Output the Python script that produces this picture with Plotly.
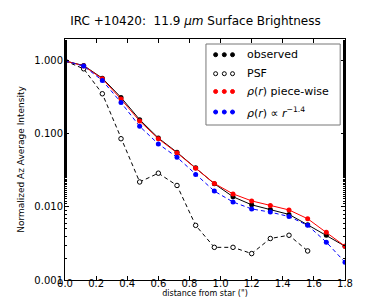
import plotly.graph_objects as go

radius = [0.0, 0.12, 0.24, 0.36, 0.48, 0.60, 0.72, 0.84, 0.96, 1.08, 1.20, 1.32, 1.44, 1.56, 1.68, 1.80]
observed = [1.0, 0.865, 0.58, 0.316, 0.157, 0.088, 0.056, 0.0344, 0.0208, 0.0138, 0.0107, 0.0092, 0.0079, 0.0057, 0.0041, 0.0029]
piecewise = [1.0, 0.855, 0.57, 0.30, 0.150, 0.086, 0.055, 0.0340, 0.0210, 0.0151, 0.0121, 0.0105, 0.0091, 0.0069, 0.0045, 0.0029]
powerlaw = [1.0, 0.85, 0.54, 0.27, 0.127, 0.073, 0.048, 0.0279, 0.0165, 0.0117, 0.0094, 0.0085, 0.0074, 0.0056, 0.0033, 0.00175]
psf_radius = [0.0, 0.12, 0.24, 0.36, 0.48, 0.60, 0.72, 0.84, 0.96, 1.08, 1.20, 1.32, 1.44, 1.56]
psf = [1.0, 0.78, 0.355, 0.086, 0.022, 0.029, 0.0197, 0.0056, 0.0028, 0.0028, 0.0023, 0.0037, 0.0041, 0.0025]

x_ticks = [0.0, 0.2, 0.4, 0.6, 0.8, 1.0, 1.2, 1.4, 1.6, 1.8]
x_ticktext = ["0.0", "0.2", "0.4", "0.6", "0.8", "1.0", "1.2", "1.4", "1.6", "1.8"]
y_ticks = [0.001, 0.01, 0.1, 1.0]
y_ticktext = ["0.001", "0.010", "0.100", "1.000"]

legend_labels = ["observed", "PSF", "<i>ρ</i>(<i>r</i>) piece-wise",
                 "<i>ρ</i>(<i>r</i>) ∝ <i>r</i><sup>−1.4</sup>"]
legend_colors = ["black", "black", "red", "blue"]
legend_fill = ["black", "white", "red", "blue"]

FONT = "DejaVu Sans"
fig = go.Figure()

fig.add_trace(go.Scatter(x=radius, y=observed, mode="lines+markers",
                         line=dict(color="black", width=1),
                         marker=dict(color="black", size=5, symbol="circle")))
fig.add_trace(go.Scatter(x=psf_radius, y=psf, mode="lines+markers",
                         line=dict(color="black", width=1, dash="4px,3px"),
                         marker=dict(color="white", size=4.5, symbol="circle",
                                     line=dict(color="black", width=1))))
fig.add_trace(go.Scatter(x=radius, y=piecewise, mode="lines+markers",
                         line=dict(color="red", width=1),
                         marker=dict(color="red", size=5, symbol="circle")))
fig.add_trace(go.Scatter(x=radius, y=powerlaw, mode="lines+markers",
                         line=dict(color="blue", width=1, dash="4px,3px"),
                         marker=dict(color="blue", size=5, symbol="circle")))
# invisible trace to carry the mirrored right-hand log axis (minor ticks)
fig.add_trace(go.Scatter(x=radius, y=observed, yaxis="y2", mode="lines",
                         opacity=0, hoverinfo="skip", line=dict(width=0)))

# plot area in pixels: x 47..337, y 31..272
W, H = 375, 304
L, R, T, B = 47, 337, 31, 272

def px(xp):
    return (xp - L) / (R - L)

def py(yp):
    return (B - yp) / (B - T)

shapes = [dict(type="rect", xref="paper", yref="paper",
               x0=px(193), x1=px(332), y0=py(117), y1=py(36),
               line=dict(color="#777777", width=1), fillcolor="white", layer="above")]
annotations = []
rows = [46.7, 65.7, 83.5, 104]
for i, lab in enumerate(legend_labels):
    for dx in (203, 212, 220.5):
        shapes.append(dict(type="circle", xref="paper", yref="paper",
                           xsizemode="pixel", ysizemode="pixel",
                           xanchor=px(dx), yanchor=py(rows[i]),
                           x0=-2, x1=2, y0=-2, y1=2,
                           line=dict(color=legend_colors[i], width=1),
                           fillcolor=legend_fill[i], layer="above"))
    annotations.append(dict(xref="paper", yref="paper", x=px(233), y=py(rows[i]),
                            text=lab, showarrow=False, xanchor="left", yanchor="middle",
                            font=dict(family=FONT, size=11, color="black")))

minor_ticks = dict(ticks="inside", ticklen=2, tickcolor="black", showgrid=False)

fig.update_layout(
    width=W, height=H,
    margin=dict(l=L, r=W - R, t=T, b=H - B),
    paper_bgcolor="white", plot_bgcolor="white",
    showlegend=False,
    font=dict(family=FONT, color="black"),
    title=dict(text="IRC +10420:  11.9 <i>μm</i> Surface Brightness",
               x=0.5, xanchor="center", y=1 - 13 / H, yanchor="middle",
               font=dict(family=FONT, size=12, color="black")),
    shapes=shapes, annotations=annotations,
    xaxis=dict(range=[0, 1.8], tickvals=x_ticks, ticktext=x_ticktext,
               ticks="inside", ticklen=4, tickcolor="black", showgrid=False,
               zeroline=False, showline=True, linecolor="black", linewidth=1,
               mirror="ticks", tickfont=dict(family=FONT, size=10, color="black"),
               ticklabelstandoff=-6,
               title=dict(text="distance from star (\")", standoff=0,
                          font=dict(family=FONT, size=8, color="black"))),
    yaxis=dict(type="log", range=[-3, 0.3], tickvals=y_ticks, ticktext=y_ticktext,
               ticks="inside", ticklen=4, tickcolor="black", showgrid=False,
               zeroline=False, showline=True, linecolor="black", linewidth=1,
               mirror=True, tickfont=dict(family=FONT, size=10, color="black"),
               ticklabelstandoff=-1, minor=minor_ticks,
               title=dict(text="Normalized Az Average Intensity", standoff=8,
                          font=dict(family=FONT, size=9, color="black"))),
    yaxis2=dict(type="log", range=[-3, 0.3], overlaying="y", side="right",
                showticklabels=False, ticks="inside", ticklen=4, tickcolor="black",
                tickvals=y_ticks, showgrid=False, zeroline=False, showline=False,
                minor=minor_ticks),
)

fig.write_html("out.html")
